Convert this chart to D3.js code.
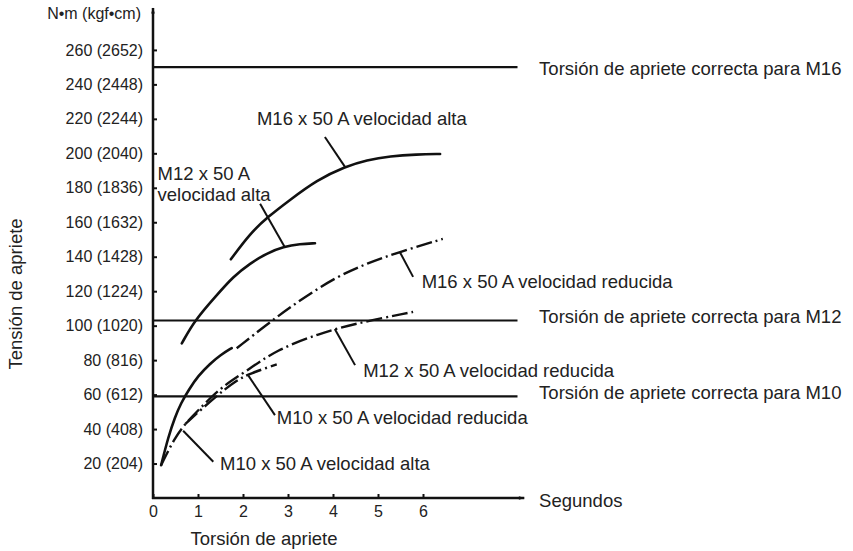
<!DOCTYPE html>
<html>
<head>
<meta charset="utf-8">
<script src="https://cdn.jsdelivr.net/npm/d3@7"></script>
<style>
  html, body { margin: 0; padding: 0; background: #fff; }
  svg { display: block; }
  text { font-family: "Liberation Sans", Arial, Helvetica, sans-serif; fill: #222; }
</style>
</head>
<body>
<svg id="chart" width="853" height="551"></svg>
<script>
// ---------- data ----------
const yTicks = [20, 40, 60, 80, 100, 120, 140, 160, 180, 200, 220, 240, 260];
const yTickLabels = ["20 (204)", "40 (408)", "60 (612)", "80 (816)", "100 (1020)", "120 (1224)",
  "140 (1428)", "160 (1632)", "180 (1836)", "200 (2040)", "220 (2244)", "240 (2448)", "260 (2652)"];
const xTicks = [0, 1, 2, 3, 4, 5, 6];

const m16Alta = [[1.73, 138.5], [2.16, 153.6], [2.56, 163.3], [3.04, 172.9], [3.64, 184.5],
  [4.27, 192.3], [4.75, 196.1], [5.27, 198.4], [5.86, 199.4], [6.38, 199.6]];
const m12Alta = [[0.64, 89.7], [0.93, 103.3], [1.42, 117.8], [1.78, 128.4], [2.16, 136.2],
  [2.53, 142], [2.9, 145.8], [3.27, 147.4], [3.6, 147.8]];
const m10Alta = [[0.18, 19], [0.34, 35.5], [0.49, 47], [0.62, 55], [0.8, 63], [1.0, 70.8],
  [1.27, 78], [1.5, 83], [1.75, 87]];
const m16Reducida = [[1.86, 86.9], [2.6, 102.1], [3.27, 114.9], [4.08, 128.4], [4.75, 136.1],
  [5.49, 142.9], [6.44, 150.3]];
const m12Reducida = [[0.18, 19], [0.49, 35.5], [0.78, 45], [1.16, 55], [1.53, 64.5], [2.04, 73],
  [2.74, 86], [3.71, 95.5], [4.45, 101], [5.78, 108]];
const m10Reducida = [[0.72, 43], [1.38, 58.7], [1.86, 68.4], [2.16, 72.3], [2.75, 77.5]];

const refLevels = [250, 103, 59];
const refLabels = ["Torsión de apriete correcta para M16", "Torsión de apriete correcta para M12",
  "Torsión de apriete correcta para M10"];
const refEnd = 8.1;

// leader lines [from, to] in data units
const leaders = [
  [[3.82, 209.5], [4.27, 192]],
  [[2.38, 170.8], [2.93, 145.5]],
  [[5.49, 142.5], [5.78, 128.3]],
  [[4.04, 98], [4.49, 77.1]],
  [[2.12, 71], [2.71, 48.1]],
  [[0.67, 39], [1.34, 21]]
];
const curveLabels = [
  {t: 2.31, v: 220, lines: ["M16 x 50 A velocidad alta"]},
  {t: 0.1, v: 188.5, lines: ["M12 x 50 A", "velocidad alta"]},
  {t: 5.97, v: 125.5, lines: ["M16 x 50 A velocidad reducida"]},
  {t: 4.67, v: 73.9, lines: ["M12 x 50 A velocidad reducida"]},
  {t: 2.75, v: 47, lines: ["M10 x 50 A velocidad reducida"]},
  {t: 1.49, v: 20.1, lines: ["M10 x 50 A velocidad alta"]}
];

// ---------- chart ----------
const svg = d3.select("#chart");
const x = d3.scaleLinear().domain([0, 8.2]).range([153, 522]);
const y = d3.scaleLinear().domain([0, 282]).range([498, 12]);
const FS = "18.5px";

const defs = svg.append("defs");
defs.append("marker").attr("id", "arrow").attr("viewBox", "0 0 10 10")
  .attr("refX", 9).attr("refY", 5).attr("markerWidth", 14).attr("markerHeight", 6)
  .attr("markerUnits", "userSpaceOnUse").attr("orient", "auto")
  .append("path").attr("d", "M0,2 L10,5 L0,8 Z").attr("fill", "#111");

// axes
const yAxis = d3.axisLeft(y).tickValues(yTicks).tickSize(-4).tickPadding(10)
  .tickFormat((d, i) => yTickLabels[i]);
const gy = svg.append("g").attr("transform", `translate(${x(0)},0)`).call(yAxis);
gy.select(".domain").remove();
gy.selectAll(".tick line").attr("stroke", "#111").attr("stroke-width", 2);
gy.selectAll(".tick text").style("font-size", "16px").style("font-family", "Liberation Sans, Arial, sans-serif").attr("fill", "#222");

const xAxis = d3.axisBottom(x).tickValues(xTicks).tickSize(-4).tickPadding(8).tickFormat(d3.format("d"));
const gx = svg.append("g").attr("transform", `translate(0,${y(0)})`).call(xAxis);
gx.select(".domain").remove();
gx.selectAll(".tick line").attr("stroke", "#111").attr("stroke-width", 2);
gx.selectAll(".tick text").style("font-size", "16px").style("font-family", "Liberation Sans, Arial, sans-serif").attr("fill", "#222");

svg.append("line").attr("x1", x(0)).attr("y1", y(0) + 1).attr("x2", x(0)).attr("y2", 8)
  .attr("stroke", "#111").attr("stroke-width", 2.5).attr("marker-end", "url(#arrow)");
svg.append("line").attr("x1", x(0) - 1).attr("y1", y(0)).attr("x2", x(8.25)).attr("y2", y(0))
  .attr("stroke", "#111").attr("stroke-width", 2.5).attr("marker-end", "url(#arrow)");

// axis titles
svg.append("text").attr("x", 141).attr("y", 13).attr("text-anchor", "end")
  .attr("dominant-baseline", "central").style("font-size", "16px").text("N•m (kgf•cm)");
svg.append("text").attr("x", x(8.58)).attr("y", y(0) + 2).attr("dominant-baseline", "central")
  .style("font-size", FS).text("Segundos");
svg.append("text").attr("x", 264).attr("y", 538).attr("text-anchor", "middle")
  .attr("dominant-baseline", "central").style("font-size", FS).text("Torsión de apriete");
svg.append("text").attr("transform", "translate(15,294) rotate(-90)").attr("text-anchor", "middle")
  .attr("dominant-baseline", "central").style("font-size", FS).text("Tensión de apriete");

// reference lines
refLevels.forEach((lv) => {
  svg.append("line").attr("x1", x(0)).attr("x2", x(refEnd)).attr("y1", y(lv)).attr("y2", y(lv))
    .attr("stroke", "#111").attr("stroke-width", 2.2);
});
const refLabelOffsets = [1, -4, -4];
refLevels.forEach((lv, i) => {
  svg.append("text").attr("x", x(8.58)).attr("y", y(lv) + refLabelOffsets[i])
    .attr("dominant-baseline", "central").style("font-size", FS).text(refLabels[i]);
});

// curves
const line = d3.line().x(d => x(d[0])).y(d => y(d[1])).curve(d3.curveBasis);
const solid = [m16Alta, m12Alta, m10Alta];
const dashed = [m16Reducida, m12Reducida, m10Reducida];
solid.forEach(s => svg.append("path").attr("d", line(s)).attr("fill", "none")
  .attr("stroke", "#111").attr("stroke-width", 2.6).attr("stroke-linecap", "round"));
dashed.forEach(s => svg.append("path").attr("d", line(s)).attr("fill", "none")
  .attr("stroke", "#111").attr("stroke-width", 2.4).attr("stroke-dasharray", "16,4,2,4"));

// leaders
leaders.forEach(l => svg.append("line").attr("x1", x(l[0][0])).attr("y1", y(l[0][1]))
  .attr("x2", x(l[1][0])).attr("y2", y(l[1][1])).attr("stroke", "#111").attr("stroke-width", 2));

// curve labels
curveLabels.forEach(c => {
  c.lines.forEach((t, j) => {
    svg.append("text").attr("x", x(c.t)).attr("y", y(c.v) + j * 21)
      .attr("dominant-baseline", "central").style("font-size", FS).text(t);
  });
});
</script>
</body>
</html>
